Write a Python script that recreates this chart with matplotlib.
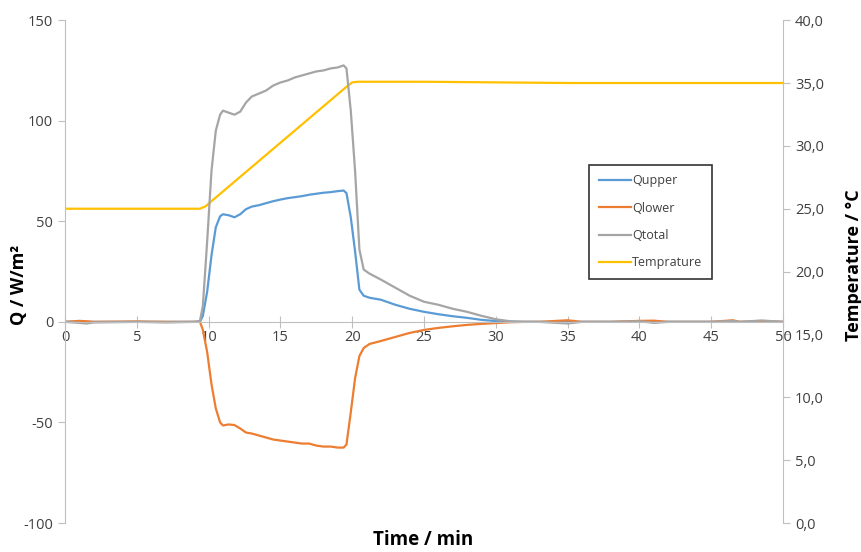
import numpy as np
import matplotlib
matplotlib.use("Agg")
import matplotlib.pyplot as plt

plt.rcParams['font.family'] = ['Open Sans', 'DejaVu Sans']
plt.rcParams['axes.unicode_minus'] = False

# heat flux samples, time in minutes
t = [0, 1, 1.5, 2, 5, 7, 9.0, 9.4, 9.6, 9.9, 10.2, 10.5, 10.8, 11.0, 11.4, 11.8,
     12.2, 12.6, 13.0, 13.5, 14.0, 14.5, 15.0, 15.5, 16.0, 16.5, 17.0, 17.5, 18.0,
     18.5, 19.0, 19.4, 19.6, 19.9, 20.2, 20.5, 20.8, 21.2, 22, 23, 24, 25, 26, 27,
     28, 29, 30, 31, 32, 33, 35, 36, 38, 40, 41, 42, 45, 46.5, 47, 48.5, 50]
q_upper = [0, 0.2, 0, 0, 0, 0, 0, 0, 3, 15, 33, 47, 52.5, 53.5, 53, 52,
           53.5, 56, 57.3, 58, 59, 60, 60.8, 61.5, 62, 62.5, 63.2, 63.7, 64.2,
           64.5, 65, 65.3, 64, 52, 35, 16, 13, 12, 11, 8.5, 6.5, 5, 3.8, 2.8,
           2, 1, 0.4, 0.1, 0, 0, 0, 0, 0, 0, 0, 0, 0, 0, 0, 0, 0]
q_lower = [0, 0.5, 0.3, 0, 0.2, 0, 0, 0, -4, -15, -31, -43, -50, -51.5, -51, -51.3,
           -53, -55, -55.5, -56.5, -57.5, -58.5, -59, -59.5, -60, -60.5, -60.5, -61.5, -62,
           -62, -62.5, -62.5, -61, -45, -28, -17, -13, -11, -9.5, -7.5, -5.5, -4, -3, -2.2,
           -1.5, -1, -0.6, -0.2, 0, 0, 0.8, 0, 0, 0.5, 0.6, 0, 0, 0.8, 0, 0.3, 0]
q_total = [0, -0.5, -0.8, -0.3, 0, -0.3, 0, 0.5, 8, 40, 75, 95, 103, 105, 104, 103,
           104.5, 109, 112, 113.5, 115, 117.5, 119, 120, 121.5, 122.5, 123.5, 124.5, 125,
           126, 126.5, 127.5, 126, 105, 75, 36, 26, 24, 21, 17, 13, 10, 8.5, 6.5,
           5, 3, 1.3, 0.3, 0, 0, -0.8, 0, 0, 0.3, -0.5, 0, 0, 0.5, 0, 0.7, 0]

t_temp = [0, 9.4, 9.8, 10.2, 19.6, 20.0, 20.4, 25, 30, 35, 50]
temp = [25.0, 25.0, 25.2, 25.6, 34.7, 35.05, 35.1, 35.1, 35.05, 35.0, 35.0]

x_ticks = list(range(0, 51, 5))
q_ticks = [-100, -50, 0, 50, 100, 150]
temp_ticks = [0, 5, 10, 15, 20, 25, 30, 35, 40]

grey = '#bfbfbf'
txt = '#404040'

fig = plt.figure(figsize=(8.62, 5.52), dpi=100)
ax = fig.add_axes([0.0754, 0.0525, 0.833, 0.911])
ax2 = ax.twinx()

l1, = ax.plot(t, q_upper, color='#5B9BD5', lw=1.6, label='Qupper')
l2, = ax.plot(t, q_lower, color='#ED7D31', lw=1.6, label='Qlower')
l3, = ax.plot(t, q_total, color='#A5A5A5', lw=1.6, label='Qtotal')
l4, = ax2.plot(t_temp, temp, color='#FFC000', lw=1.6, label='Temprature')

ax.set_xlim(0, 50)
ax.set_ylim(-100, 150)
ax2.set_ylim(0, 40)
ax.set_xticks(x_ticks)
ax.set_yticks(q_ticks)
ax2.set_yticks(temp_ticks)
ax2.set_yticklabels([f"{v:.1f}".replace('.', ',') for v in temp_ticks])

for a in (ax, ax2):
    a.spines['top'].set_visible(False)
    for s in ('left', 'right', 'bottom'):
        a.spines[s].set_color(grey)
ax.spines['right'].set_visible(False)
ax2.spines['left'].set_visible(False)
ax2.spines['bottom'].set_visible(False)
ax.spines['bottom'].set_position(('data', 0))

ax.tick_params(axis='x', direction='inout', length=8, color=grey, labelcolor=txt,
               labelsize=10.5, pad=2)
ax.tick_params(axis='y', direction='out', length=5, color=grey, labelcolor=txt,
               labelsize=10.5)
ax2.tick_params(axis='y', direction='out', length=5, color=grey, labelcolor=txt,
                labelsize=10.5)

ax.set_xlabel('Time / min', fontsize=13.5, fontweight='bold', color='black')
ax.xaxis.set_label_coords(0.499, -0.014)
ax.set_ylabel('Q / W/m²', fontsize=13, fontweight='bold', color='black')
ax.yaxis.set_label_coords(-0.052, 0.473)
ax2.set_ylabel('Temperature / °C', fontsize=13, fontweight='bold', color='black')
ax2.yaxis.set_label_coords(1.086, 0.513)

leg = ax.legend(handles=[l1, l2, l3, l4], loc='upper left', bbox_to_anchor=(0.73, 0.712),
                borderaxespad=0, fancybox=False, fontsize=9, labelspacing=1.15,
                handlelength=2.6, handletextpad=0.1, borderpad=0.75, labelcolor=txt)
leg.get_frame().set_edgecolor('black')
leg.get_frame().set_linewidth(1.2)
leg.set_zorder(5)
ax.set_zorder(ax2.get_zorder() + 1)
ax.patch.set_visible(False)

fig.savefig('out.png', dpi=100)
